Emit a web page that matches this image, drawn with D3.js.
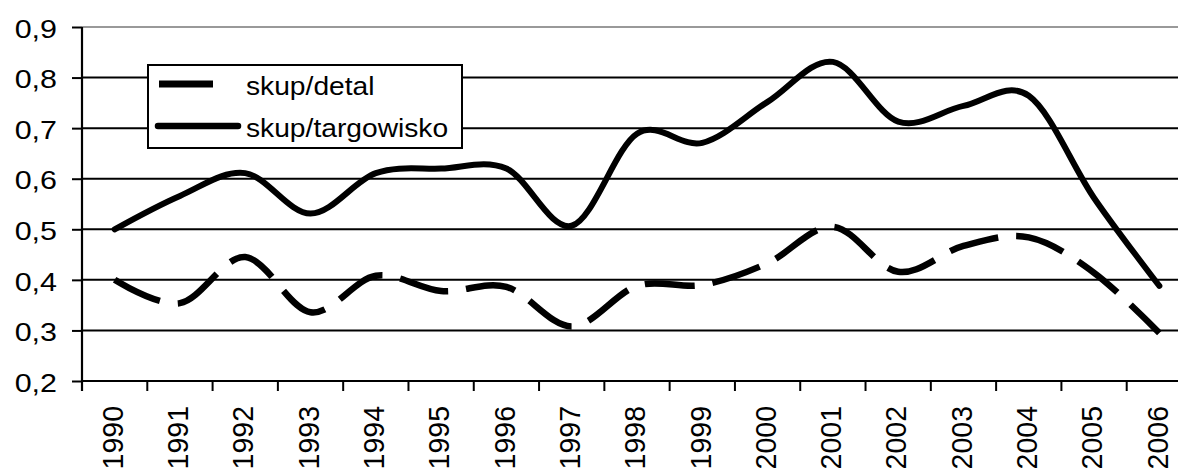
<!DOCTYPE html>
<html>
<head>
<meta charset="utf-8">
<script src="https://cdn.jsdelivr.net/npm/d3@7"></script>
<style>
  body { margin: 0; background: #fff; }
  text { font-family: "Liberation Sans", Arial, sans-serif; fill: #000; }
</style>
</head>
<body>
<svg id="chart"></svg>
<script>
// data
var years = ["1990","1991","1992","1993","1994","1995","1996","1997","1998",
             "1999","2000","2001","2002","2003","2004","2005","2006"];
var skupDetal = [0.400, 0.354, 0.445, 0.336, 0.408, 0.378, 0.386, 0.308, 0.388,
                 0.390, 0.433, 0.505, 0.416, 0.467, 0.484, 0.414, 0.295];
var skupTargowisko = [0.500, 0.566, 0.611, 0.531, 0.611, 0.620, 0.620, 0.507, 0.689,
                      0.671, 0.752, 0.831, 0.713, 0.744, 0.764, 0.562, 0.388];
var yTicks = [0.2, 0.3, 0.4, 0.5, 0.6, 0.7, 0.8, 0.9];
var seriesNames = ["skup/detal", "skup/targowisko"];

var width = 1178, height = 475;
var plotL = 82, plotR = 1192, plotT = 27, plotB = 381;

var svg = d3.select("#chart")
    .attr("width", width)
    .attr("height", height);

svg.append("rect").attr("width", width).attr("height", height).attr("fill", "#fff");

var x = d3.scaleBand().domain(years).range([plotL, plotR]);
var y = d3.scaleLinear().domain([0.2, 0.9]).range([plotB, plotT]);

var fmt = d3.formatLocale({decimal: ",", thousands: " ", grouping: [3], currency: ["", ""]}).format(".1f");

// gridlines
svg.selectAll(".grid")
    .data(yTicks.filter(function(d) { return d > 0.2 && d < 0.9; }))
  .enter().append("line")
    .attr("class", "grid")
    .attr("x1", plotL).attr("x2", width)
    .attr("y1", function(d) { return y(d); })
    .attr("y2", function(d) { return y(d); })
    .attr("stroke", "#000")
    .attr("stroke-width", 2);

// top border of plot area (grey)
svg.append("line")
    .attr("x1", plotL).attr("x2", width)
    .attr("y1", y(0.9)).attr("y2", y(0.9))
    .attr("stroke", "#999")
    .attr("stroke-width", 2);

// y axis
var yAxis = svg.append("g")
    .attr("transform", "translate(" + plotL + ",0)")
    .call(d3.axisLeft(y).tickValues(yTicks).tickSize(10).tickFormat(fmt));
yAxis.select(".domain").remove();
yAxis.selectAll(".tick line").attr("stroke", "#000").attr("stroke-width", 2);
yAxis.selectAll(".tick text")
    .attr("x", null).attr("dy", null)
    .attr("text-anchor", "end")
    .attr("dominant-baseline", "central")
    .attr("font-size", 26.5)
    .attr("transform", "translate(-25,1) scale(1.15,1)");

svg.append("line")
    .attr("x1", plotL).attr("x2", plotL)
    .attr("y1", plotT).attr("y2", plotB + 10)
    .attr("stroke", "#000").attr("stroke-width", 2.2);

// x axis
svg.append("line")
    .attr("x1", plotL).attr("x2", width)
    .attr("y1", plotB).attr("y2", plotB)
    .attr("stroke", "#000").attr("stroke-width", 2.2);

svg.selectAll(".xtick")
    .data(years)
  .enter().append("line")
    .attr("class", "xtick")
    .attr("x1", function(d) { return x(d); })
    .attr("x2", function(d) { return x(d); })
    .attr("y1", plotB).attr("y2", plotB + 10)
    .attr("stroke", "#000").attr("stroke-width", 2);

svg.selectAll(".xlabel")
    .data(years)
  .enter().append("text")
    .attr("class", "xlabel")
    .attr("text-anchor", "end")
    .attr("dominant-baseline", "central")
    .attr("font-size", 28.5)
    .attr("transform", function(d) {
      return "translate(" + (x(d) + x.bandwidth() / 2 - 2) + "," + (plotB + 25) + ") scale(1.05,1) rotate(-90)";
    })
    .text(function(d) { return d; });

// lines
var line = d3.line()
    .x(function(d, i) { return x(years[i]) + x.bandwidth() / 2; })
    .y(function(d) { return y(d); })
    .curve(d3.curveCardinal.tension(0));

svg.append("path")
    .datum(skupDetal)
    .attr("d", line)
    .attr("fill", "none")
    .attr("stroke", "#000")
    .attr("stroke-width", 6.5)
    .attr("stroke-dasharray", "50,18");

svg.append("path")
    .datum(skupTargowisko)
    .attr("d", line)
    .attr("fill", "none")
    .attr("stroke", "#000")
    .attr("stroke-width", 6)
    .attr("stroke-linecap", "round")
    .attr("stroke-linejoin", "round");

// legend
var legend = svg.append("g");
legend.append("rect")
    .attr("x", 148).attr("y", 65)
    .attr("width", 314).attr("height", 83)
    .attr("fill", "#fff")
    .attr("stroke", "#000")
    .attr("stroke-width", 2);

legend.append("line")
    .attr("x1", 159).attr("x2", 240)
    .attr("y1", 84).attr("y2", 84)
    .attr("stroke", "#000").attr("stroke-width", 7)
    .attr("stroke-dasharray", "54,40");

legend.append("line")
    .attr("x1", 158).attr("x2", 238)
    .attr("y1", 126).attr("y2", 126)
    .attr("stroke", "#000").attr("stroke-width", 6.5)
    .attr("stroke-linecap", "round");

legend.selectAll(".ltext")
    .data(seriesNames)
  .enter().append("text")
    .attr("class", "ltext")
    .attr("font-size", 26)
    .attr("transform", function(d, i) { return "translate(246," + (95 + i * 42) + ") scale(1.085,1)"; })
    .text(function(d) { return d; });
</script>
</body>
</html>
